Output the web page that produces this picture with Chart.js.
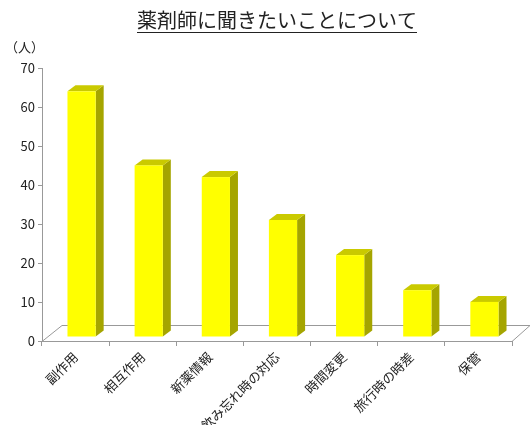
<!DOCTYPE html>
<html>
<head>
<meta charset="utf-8">
<script src="https://cdn.jsdelivr.net/npm/chart.js@4"></script>
<style>
  html, body { margin: 0; padding: 0; background: #fff; }
  #wrap { width: 532px; height: 425px; }
</style>
</head>
<body>
<div id="wrap"><canvas id="chart" width="532" height="425"></canvas></div>
<script>
const categories = ["副作用", "相互作用", "新薬情報", "飲み忘れ時の対応", "時間変更", "旅行時の時差", "保管"];
const counts = [63, 44, 41, 30, 21, 12, 9];
const yTicks = [0, 10, 20, 30, 40, 50, 60, 70];

const FONT = "'Noto Sans CJK JP', 'Noto Sans', sans-serif";
const DEPTH_X = 8, DEPTH_Y = 6;   // 3d depth of a bar
const SHIFT_X = 6, SHIFT_Y = 4;   // bars stand in the middle of the floor

// floor, title, unit label and the 3d bars
const pseudo3d = {
  id: "pseudo3d",
  beforeDatasetsDraw(chart) {
    const { ctx, chartArea: a } = chart;
    ctx.save();
    ctx.strokeStyle = "#999";
    ctx.lineWidth = 1;
    ctx.beginPath();
    ctx.moveTo(a.left, a.bottom + 0.5);
    ctx.lineTo(a.left + 20, a.bottom - 15.5);
    ctx.lineTo(a.right + 18, a.bottom - 15.5);
    ctx.lineTo(a.right, a.bottom + 0.5);
    ctx.stroke();
    ctx.restore();
  },
  afterDatasetsDraw(chart) {
    const { ctx } = chart;
    const meta = chart.getDatasetMeta(0);
    ctx.save();
    meta.data.forEach((bar) => {
      const w = bar.width;
      const x0 = bar.x - w / 2 + SHIFT_X;
      const x1 = x0 + w;
      const yt = bar.y - SHIFT_Y;
      const yb = bar.base - SHIFT_Y;
      // side
      ctx.fillStyle = "#a5a500";
      ctx.beginPath();
      ctx.moveTo(x1, yb);
      ctx.lineTo(x1 + DEPTH_X, yb - DEPTH_Y);
      ctx.lineTo(x1 + DEPTH_X, yt - DEPTH_Y);
      ctx.lineTo(x1, yt);
      ctx.closePath();
      ctx.fill();
      // top
      ctx.fillStyle = "#caca00";
      ctx.beginPath();
      ctx.moveTo(x0, yt);
      ctx.lineTo(x0 + DEPTH_X, yt - DEPTH_Y);
      ctx.lineTo(x1 + DEPTH_X, yt - DEPTH_Y);
      ctx.lineTo(x1, yt);
      ctx.closePath();
      ctx.fill();
      // front
      ctx.fillStyle = "#ffff00";
      ctx.fillRect(x0, yt, w, yb - yt);
    });
    ctx.restore();
  },
  afterDraw(chart) {
    const { ctx } = chart;
    ctx.save();
    ctx.fillStyle = "#222";
    ctx.font = "20px " + FONT;
    ctx.textAlign = "center";
    ctx.textBaseline = "alphabetic";
    const title = "薬剤師に聞きたいことについて";
    ctx.fillText(title, 277, 28);
    const tw = ctx.measureText(title).width;
    ctx.fillRect(277 - tw / 2, 32, tw, 1);
    ctx.font = "13px " + FONT;
    ctx.textAlign = "left";
    ctx.fillText("（人）", 5, 52);
    ctx.restore();
  }
};

new Chart(document.getElementById("chart"), {
  type: "bar",
  data: {
    labels: categories,
    datasets: [{
      data: counts,
      backgroundColor: "rgba(0,0,0,0)",
      barPercentage: 0.42,
      categoryPercentage: 1
    }]
  },
  options: {
    responsive: false,
    animation: false,
    layout: { padding: { top: 68, right: 20, left: 0, bottom: 0 } },
    plugins: { legend: { display: false }, tooltip: { enabled: false } },
    scales: {
      x: {
        afterFit: (s) => { s.height = 84; },
        border: { color: "#999" },
        grid: { drawOnChartArea: false, tickLength: 5, color: "#999" },
        ticks: {
          color: "#222",
          font: { family: FONT, size: 13 },
          minRotation: 45,
          maxRotation: 45,
          autoSkip: false
        }
      },
      y: {
        min: 0,
        max: 70,
        afterFit: (s) => { s.width = 42; },
        afterBuildTicks: (s) => { s.ticks = yTicks.map((v) => ({ value: v })); },
        border: { color: "#999" },
        grid: { drawOnChartArea: false, tickLength: 4, color: "#999" },
        ticks: {
          color: "#222",
          padding: 3,
          font: { family: FONT, size: 13 }
        }
      }
    }
  },
  plugins: [pseudo3d]
});
</script>
</body>
</html>
